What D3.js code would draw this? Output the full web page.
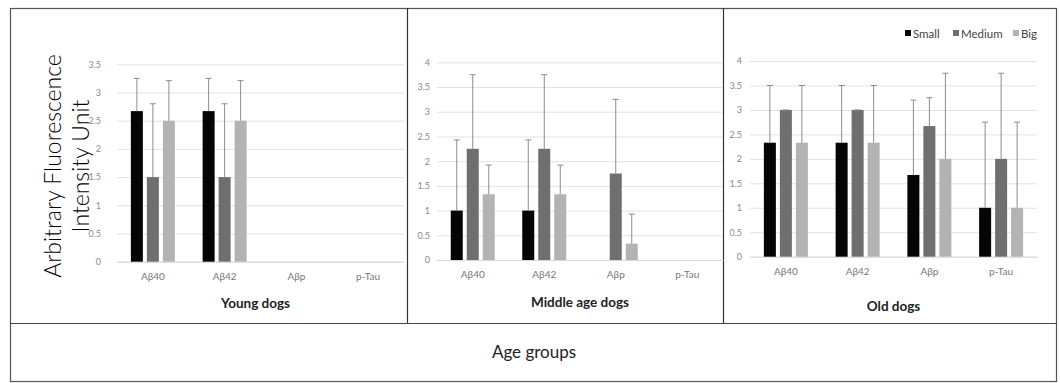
<!DOCTYPE html>
<html>
<head>
<meta charset="utf-8">
<script src="https://cdn.jsdelivr.net/npm/d3@7"></script>
<style>
  body { margin: 0; background: #fff; }
  svg { font-family: Lato, "Open Sans", sans-serif; }
</style>
</head>
<body>
<script>
// categories and groups
const categories = ["Aβ40", "Aβ42", "Aβp", "p-Tau"];
const sizes = ["Small", "Medium", "Big"];
const sizeColors = ["#050505", "#6f6f6f", "#b3b3b3"];

// mean values per size (null = no bar)
const youngSmall  = [2.67, 2.67, null, null];
const youngMedium = [1.5, 1.5, null, null];
const youngBig    = [2.5, 2.5, null, null];
const youngSmallErr  = [0.58, 0.58, null, null];
const youngMediumErr = [1.3, 1.3, null, null];
const youngBigErr    = [0.71, 0.71, null, null];

const middleSmall  = [1, 1, null, null];
const middleMedium = [2.25, 2.25, 1.75, null];
const middleBig    = [1.33, 1.33, 0.33, null];
const middleSmallErr  = [1.43, 1.43, null, null];
const middleMediumErr = [1.5, 1.5, 1.5, null];
const middleBigErr    = [0.59, 0.59, 0.6, null];

const oldSmall  = [2.33, 2.33, 1.67, 1];
const oldMedium = [3, 3, 2.67, 2];
const oldBig    = [2.33, 2.33, 2, 1];
const oldSmallErr  = [1.17, 1.17, 1.53, 1.75];
const oldMediumErr = [0, 0, 0.58, 1.75];
const oldBigErr    = [1.17, 1.17, 1.75, 1.75];

const yTicksYoung = [0, 0.5, 1, 1.5, 2, 2.5, 3, 3.5];
const yTicksOther = [0, 0.5, 1, 1.5, 2, 2.5, 3, 3.5, 4];

const panels = [
  { title: "Young dogs", means: [youngSmall, youngMedium, youngBig],
    errs: [youngSmallErr, youngMediumErr, youngBigErr], ticks: yTicksYoung,
    left: 117, right: 404, y0: 261.7, yTop: 64.3, labelGap: 16, titleY: 308 },
  { title: "Middle age dogs", means: [middleSmall, middleMedium, middleBig],
    errs: [middleSmallErr, middleMediumErr, middleBigErr], ticks: yTicksOther,
    left: 437, right: 723, y0: 260, yTop: 62.3, labelGap: 7, titleY: 307 },
  { title: "Old dogs", means: [oldSmall, oldMedium, oldBig],
    errs: [oldSmallErr, oldMediumErr, oldBigErr], ticks: yTicksOther,
    left: 750, right: 1037, y0: 256.7, yTop: 61, labelGap: 8, titleY: 311 }
];

const width = 1060, height = 383;

const svg = d3.select("body").append("svg")
  .attr("width", width)
  .attr("height", height);

// frame
svg.append("rect")
  .attr("x", 10.5).attr("y", 8.5)
  .attr("width", 1046).attr("height", 373)
  .attr("fill", "none")
  .attr("stroke", "#555")
  .attr("stroke-width", 1.2);

[407, 723].forEach(xv => {
  svg.append("line")
    .attr("x1", xv + 0.5).attr("x2", xv + 0.5)
    .attr("y1", 8).attr("y2", 323)
    .attr("stroke", "#333").attr("stroke-width", 1.2);
});

svg.append("line")
  .attr("x1", 10).attr("x2", 1057)
  .attr("y1", 323.5).attr("y2", 323.5)
  .attr("stroke", "#444").attr("stroke-width", 1.2);

// y-axis title
svg.append("text")
  .attr("transform", "translate(53, 166) rotate(-90)")
  .attr("text-anchor", "middle")
  .attr("dy", "0.35em")
  .style("font-size", "23px")
  .style("font-weight", 300)
  .style("fill", "#000")
  .text("Arbitrary Fluorescence");

svg.append("text")
  .attr("transform", "translate(81, 166) rotate(-90)")
  .attr("text-anchor", "middle")
  .attr("dy", "0.35em")
  .style("font-size", "23px")
  .style("font-weight", 300)
  .style("fill", "#000")
  .text("Intensity Unit");

svg.append("text")
  .attr("x", 534).attr("y", 358)
  .attr("text-anchor", "middle")
  .style("font-size", "17px")
  .style("fill", "#222")
  .text("Age groups");

panels.forEach(p => {
  const ymax = d3.max(p.ticks);
  const y = d3.scaleLinear().domain([0, ymax]).range([p.y0, p.yTop]);
  const x0 = d3.scaleBand().domain(categories).range([p.left, p.right]);
  const x1 = d3.scaleBand().domain(sizes).range([0, 44]).paddingInner(0.25);
  const off = (x0.bandwidth() - 44) / 2;

  const g = svg.append("g");

  // gridlines + y ticks
  const yAxis = g.append("g")
    .attr("transform", `translate(${ p.left }, 0)`)
    .call(d3.axisLeft(y).tickValues(p.ticks).tickSize(-(p.right - p.left))
      .tickPadding(p.labelGap).tickFormat(d3.format("")));
  yAxis.select(".domain").remove();
  yAxis.selectAll(".tick line").attr("stroke", "#e2e2e2");
  yAxis.selectAll(".tick text")
    .style("font-size", "9px").style("fill", "#8a8a8a")
    .style("font-family", "Lato, sans-serif");

  // x labels
  const xAxis = g.append("g")
    .attr("transform", `translate(0, ${ p.y0 })`)
    .call(d3.axisBottom(x0).tickSize(0).tickPadding(11));
  xAxis.select(".domain").attr("stroke", "#d9d9d9");
  xAxis.selectAll(".tick text")
    .style("font-size", "10px").style("fill", "#777")
    .style("font-family", "Lato, sans-serif");

  const rows = [];
  p.means.forEach((series, si) => {
    series.forEach((v, ci) => {
      if (v !== null) rows.push({ cat: categories[ci], size: sizes[si], si: si, v: v, e: p.errs[si][ci] });
    });
  });

  g.selectAll("rect.bar")
    .data(rows)
    .enter().append("rect")
    .attr("class", "bar")
    .attr("x", d => x0(d.cat) + off + x1(d.size))
    .attr("y", d => y(d.v))
    .attr("width", x1.bandwidth())
    .attr("height", d => y(0) - y(d.v))
    .attr("fill", d => sizeColors[d.si]);

  // error bars (upper only)
  const eb = g.selectAll("g.err")
    .data(rows.filter(d => d.e !== null))
    .enter().append("g")
    .attr("class", "err")
    .attr("stroke", "#8c8c8c")
    .attr("stroke-width", 1);

  const cx = d => x0(d.cat) + off + x1(d.size) + x1.bandwidth() / 2;
  eb.append("line")
    .attr("x1", cx).attr("x2", cx)
    .attr("y1", d => y(d.v)).attr("y2", d => y(d.v + d.e));
  eb.append("line")
    .attr("x1", d => cx(d) - 3).attr("x2", d => cx(d) + 3)
    .attr("y1", d => y(d.v + d.e)).attr("y2", d => y(d.v + d.e));

  g.append("text")
    .attr("x", (p.left + p.right) / 2 + (p.title === "Young dogs" ? -5 : 0))
    .attr("y", p.titleY)
    .attr("text-anchor", "middle")
    .style("font-size", "13.5px")
    .style("font-weight", "bold")
    .style("fill", "#222")
    .text(p.title);
});

// legend
const legend = svg.append("g").attr("transform", "translate(905, 30)");
const legX = [0, 48, 108];
sizes.forEach((s, i) => {
  legend.append("rect")
    .attr("x", legX[i]).attr("y", 0)
    .attr("width", 6).attr("height", 6)
    .attr("fill", sizeColors[i]);
  legend.append("text")
    .attr("x", legX[i] + 8).attr("y", 7.5)
    .style("font-size", "11.5px")
    .style("fill", "#444")
    .text(s);
});
</script>
</body>
</html>
